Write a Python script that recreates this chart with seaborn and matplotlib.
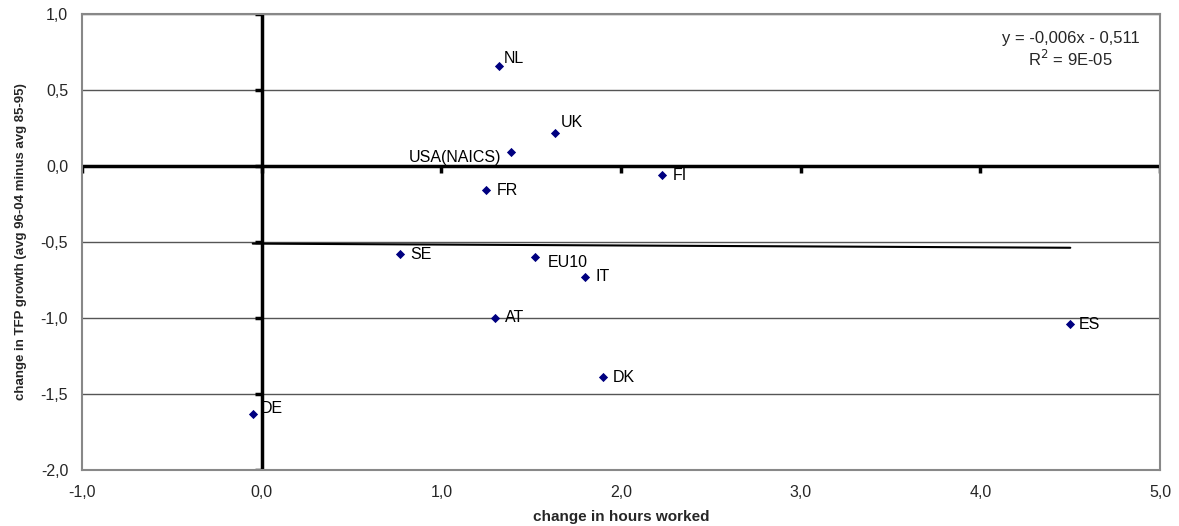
import matplotlib
matplotlib.use("Agg")
import matplotlib.pyplot as plt
import seaborn as sns
import pandas as pd
from matplotlib.ticker import FuncFormatter

# values
countries = ["NL", "UK", "USA(NAICS)", "FI", "FR", "SE", "EU10", "IT", "AT", "DK", "ES", "DE"]
hours_change = [1.32, 1.63, 1.39, 2.23, 1.25, 0.77, 1.52, 1.80, 1.30, 1.90, 4.50, -0.05]
tfp_change = [0.66, 0.22, 0.09, -0.06, -0.16, -0.58, -0.60, -0.73, -1.00, -1.39, -1.04, -1.63]
# label offsets in pixels (dx, dy) and alignment
label_offsets = [(5, 7), (6, 10), (-10, -5), (10, 0), (10, 0), (10, 0),
                 (13, -5), (10, 0), (10, 0), (10, 0), (8, 0), (8, 5)]
label_ha = ["left", "left", "right", "left", "left", "left",
            "left", "left", "left", "left", "left", "left"]

slope, intercept = -0.006, -0.511

df = pd.DataFrame({"country": countries, "hours": hours_change, "tfp": tfp_change})

sns.set_style("white")
plt.rcParams["font.family"] = ["Liberation Sans", "DejaVu Sans"]

fig = plt.figure(figsize=(11.79, 5.26), dpi=100)
ax = fig.add_axes([0.0696, 0.1065, 0.9144, 0.8669])

# horizontal gridlines
for yv in [-1.5, -1.0, -0.5, 0.5, 1.0]:
    ax.axhline(yv, color="#555555", lw=1, zorder=1)

# Excel-style axes crossing at zero
ax.axhline(0, color="black", lw=2.5, zorder=2)
ax.axvline(0, color="black", lw=2.5, zorder=2)
xt = [-1, 0, 1, 2, 3, 4, 5]
yt = [-2.0, -1.5, -1.0, -0.5, 0.0, 0.5, 1.0]
ax.plot(xt, [0] * len(xt), ls="none", marker=3, ms=5, mew=2.5, color="black", zorder=2)
ax.plot([0] * len(yt), yt, ls="none", marker=0, ms=5, mew=2.5, color="black", zorder=2)

# linear trend line over the data range
xmin, xmax = min(hours_change), max(hours_change)
ax.plot([xmin, xmax], [slope * xmin + intercept, slope * xmax + intercept],
        color="black", lw=1.5, zorder=3)

sns.scatterplot(data=df, x="hours", y="tfp", marker="D", s=22, color="#000080",
                edgecolor="#000080", linewidth=0, ax=ax, zorder=4)

for name, x, y, off, ha in zip(countries, hours_change, tfp_change, label_offsets, label_ha):
    ax.annotate(name, (x, y), xytext=off, textcoords="offset pixels",
                ha=ha, va="center", fontsize=11.5, color="black", zorder=5)

ax.text(0.917, 0.963, "y = -0,006x - 0,511\nR$^2$ = 9E-05", transform=ax.transAxes,
        ha="center", va="top", fontsize=12, linespacing=1.15)

ax.set_xlim(-1, 5)
ax.set_ylim(-2, 1)
ax.set_xticks(xt)
ax.set_yticks(yt)
fmt = FuncFormatter(lambda v, p: f"{v:.1f}".replace(".", ",").replace("-0,0", "0,0"))
ax.xaxis.set_major_formatter(fmt)
ax.yaxis.set_major_formatter(fmt)
ax.tick_params(axis="both", length=0, labelsize=11.5)
ax.tick_params(axis="x", pad=11)
ax.tick_params(axis="y", pad=10)

for sp in ax.spines.values():
    sp.set_color("#888888")
    sp.set_linewidth(1.5)

ax.set_xlabel("change in hours worked", fontsize=11, fontweight="bold", labelpad=7)
ax.set_ylabel("change in TFP growth (avg 96-04 minus avg 85-95)", fontsize=9.5,
              fontweight="bold", labelpad=10)

fig.savefig("out.png", dpi=100)
